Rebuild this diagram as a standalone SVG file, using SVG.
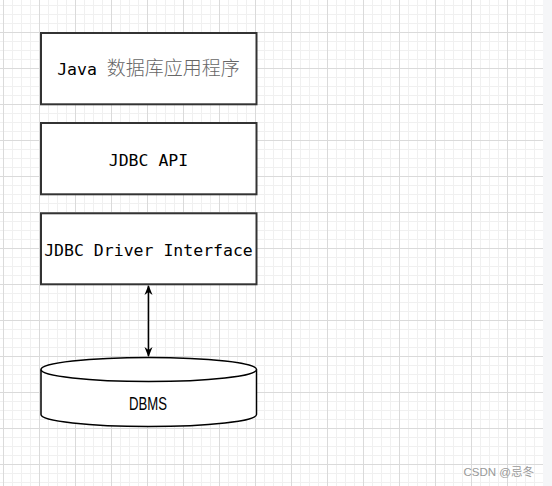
<svg xmlns="http://www.w3.org/2000/svg" width="552" height="486" viewBox="0 0 552 486">
<style>
.box{fill:#fff;stroke:#333;stroke-width:2}
.cyl{fill:#fff;stroke:#000;stroke-width:1.5}
.mono{font-family:"DejaVu Sans Mono","Liberation Mono",monospace;font-size:16.5px;fill:#000}
.cjk{font-family:"Noto Sans CJK SC",sans-serif;font-size:19px;fill:#666;font-weight:300}
.sans{font-family:"Liberation Sans","Noto Sans",sans-serif;font-size:18px;fill:#000}
.wm{font-family:"Liberation Sans","Noto Sans CJK SC",sans-serif;font-size:11.5px;fill:#999}
.conn{stroke:#000;stroke-width:1.5;fill:none}
</style>
<defs>
<pattern id="grid" patternUnits="userSpaceOnUse" x="3" y="32" width="36" height="36">
<path d="M9.5,0V36M18.5,0V36M27.5,0V36M0,9.5H36M0,18.5H36M0,27.5H36" stroke="#f0f0f0" stroke-width="1" fill="none"/>
<path d="M0.5,0V36M0,0.5H36" stroke="#dadada" stroke-width="1" fill="none"/>
</pattern>
<marker id="arr" viewBox="0 0 10 10" refX="9" refY="5" markerWidth="10" markerHeight="10" markerUnits="userSpaceOnUse" orient="auto-start-reverse">
<path d="M0,1 L10,5 L0,9 L3,5 z" fill="#000"/>
</marker>
</defs>
<rect width="552" height="486" fill="#fff"/>
<rect width="543" height="486" fill="url(#grid)"/>
<rect x="543" y="0" width="9" height="486" fill="#f5f6f8"/>

<g id="connectors">
<line class="conn" x1="148.5" y1="286" x2="148.5" y2="356" marker-start="url(#arr)" marker-end="url(#arr)"/>
</g>

<g id="java-app">
<rect class="box" x="41" y="33" width="215.5" height="71.3"/>
<text x="148.5" y="75" text-anchor="middle"><tspan class="mono">Java </tspan><tspan class="cjk">数据库应用程序</tspan></text>
</g>

<g id="jdbc-api">
<rect class="box" x="41" y="123" width="215.5" height="71.3"/>
<text class="mono" x="148.5" y="166" text-anchor="middle">JDBC API</text>
</g>

<g id="jdbc-driver">
<rect class="box" x="41" y="213.3" width="215.5" height="71"/>
<text class="mono" x="148.5" y="255.5" text-anchor="middle">JDBC Driver Interface</text>
</g>

<g id="dbms">
<path class="cyl" d="M41,369.5 L41,414.5 A107.75,12 0 0 0 256.5,414.5 L256.5,369.5"/>
<ellipse class="cyl" cx="148.75" cy="369.5" rx="107.75" ry="12"/>
<text class="sans" x="148" y="410" text-anchor="middle" textLength="38" lengthAdjust="spacingAndGlyphs">DBMS</text>
</g>

<text class="wm" x="534" y="476" text-anchor="end">CSDN @忌冬</text>
</svg>
